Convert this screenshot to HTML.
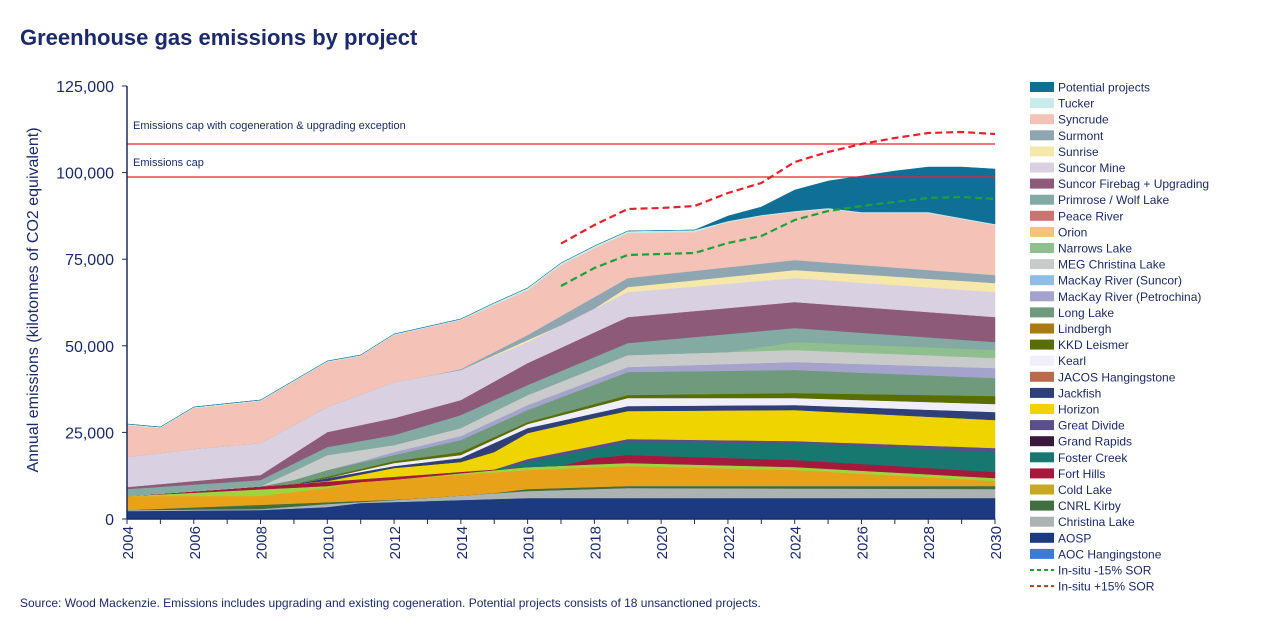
<!DOCTYPE html>
<html><head><meta charset="utf-8"><style>
body{margin:0;background:#fff;width:1286px;height:624px;overflow:hidden;font-family:"Liberation Sans",Arial,sans-serif}
</style></head><body>
<svg id="s" width="1286" height="624" xmlns="http://www.w3.org/2000/svg" font-family="Liberation Sans, Arial, sans-serif">
<text x="20" y="45" font-size="22" font-weight="bold" fill="#1a2a6c">Greenhouse gas emissions by project</text>
<text x="20" y="607" font-size="12" fill="#1a2a6c">Source: Wood Mackenzie. Emissions includes upgrading and existing cogeneration. Potential projects consists of 18 unsanctioned projects.</text>
<text transform="translate(38,300) rotate(-90)" text-anchor="middle" font-size="16" fill="#1a2a6c">Annual emissions (kilotonnes of CO2 equivalent)</text>
<g id="areas"></g>
<g id="axes"></g>
<g id="leg"></g>
</svg>
<script>
const NS="http://www.w3.org/2000/svg";
const X=y=>127+(y-2004)*33.385;
function el(t,a,p,txt){const e=document.createElementNS(NS,t);for(const k in a)e.setAttribute(k,a[k]);if(txt!=null)e.textContent=txt;p.appendChild(e);return e;}
function interp(kp){const r=[];const ks=Object.keys(kp).map(Number).sort((a,b)=>a-b);for(let y=2004;y<=2030;y++){const yy=y-2000;let i=0;while(i<ks.length-1&&ks[i+1]<yy)i++;let v;if(yy<=ks[0])v=kp[ks[0]];else if(yy>=ks[ks.length-1])v=kp[ks[ks.length-1]];else{const a=ks[i],b=ks[i+1];v=kp[a]+(kp[b]-kp[a])*(yy-a)/(b-a);}r.push(v);}return r;}
const L=[
["AOSP","#1b3a80",{4:511,8:510,10:507,11:503,16:498,30:498}],
["Christina Lake","#adb3b3",{4:510,8:509,10:504,12:500,16:491,19:488,30:489}],
["CNRL Kirby","#3f6e3f",{4:510,14:497,16:489,19:486,30:486}],
["Cold Lake","#e8a21a",{4:496,8:496,10:488,11:482,16:470,19:466,24:470,30:481}],
["AOC Hangingstone","#9fd43f",{4:496,10:486,16:467,19:463,24:467,30:478}],
["Fort Hills","#a8173c",{4:496,16:467,17:466,18:458,19:455,24:460,30:472}],
["Foster Creek","#17786f",{4:496,8:494,9:490,12:485,14:481,15:475,16:462,19:442,24:443,30:452}],
["Great Divide","#5a4e8c",{4:496,8:494,9:489,12:483,14:479,15:473,16:459,19:439,24:441,30:448}],
["Horizon","#f0d400",{4:496,8:494,9:485,10:481,12:468,14:462,15:452,16:433,18:418,19:411,24:410,30:420}],
["Jackfish","#2e3f7a",{4:496,8:494,9:484,12:466,14:458,16:428,19:406,24:405,30:412}],
["Kearl","#f0eef8",{4:496,8:493,12:463,14:455,16:424,19:398,24:398,30:404}],
["KKD Leismer","#5a6e00",{4:496,8:492,12:461,14:452,16:422,19:395,24:393,30:396}],
["Long Lake","#6f9a7c",{4:496,8:490,10:470,12:455,14:440,16:410,19:372,24:370,30:378}],
["MacKay River (Petrochina)","#a3a3cc",{4:496,8:489,12:452,14:436,16:405,19:367,24:362,30:368}],
["MEG Christina Lake","#c9cbcb",{4:496,8:487,10:455,12:445,14:428,16:395,19:355,24:350,30:358}],
["Narrows Lake","#8fbf8f",{4:496,8:487,10:455,12:445,14:428,16:395,19:355,22:352,24:342,30:350}],
["Primrose / Wolf Lake","#84aaa4",{4:489,8:480,10:447,12:435,14:415,16:385,19:343,24:328,30:342}],
["Suncor Firebag + Upgrading","#8e5a7a",{4:487,8:475,10:432,12:418,14:400,16:363,19:317,24:302,30:317}],
["Suncor Mine","#d9d1e1",{4:457,6:449,8:443,10:407,12:382,14:370,16:342,19:292,24:278,30:292}],
["Sunrise","#f6e8aa",{4:600,13:600,14:370,16:340,17:330,19:287,24:270,30:283}],
["Surmont","#8ea6b2",{4:600,13:600,14:369,16:335,19:278,24:260,30:275}],
["Syncrude","#f4c2b6",{4:425,5:428,6:408,8:401,10:362,11:356,12:335,14:320,15:305,16:290,17:265,18:248,19:233,21:232,22:222,23:216,24:212,25:209,26:213,28:213,30:225}],
["Tucker","#c8ecec",{4:424,5:427,6:407,8:400,10:361,11:355,12:334,14:319,15:303,16:288,17:263,18:246,19:231,21:230,22:221,23:215,24:211,25:208,26:212,28:212,30:224}],
["Potential projects","#0f6f97",{4:600,21:600,22:216,23:207,24:190,25:181,26:176,27:171,28:167,29:167,30:169}]
];
const g=document.getElementById("areas");
let prev=Array(27).fill(519);
for(const [n,c,kp] of L){let t=interp(kp).map((v,i)=>Math.min(v,prev[i]));let pts=[];for(let i=0;i<27;i++)pts.push(X(2004+i).toFixed(1)+","+t[i].toFixed(1));for(let i=26;i>=0;i--)pts.push(X(2004+i).toFixed(1)+","+prev[i].toFixed(1));el("polygon",{points:pts.join(" "),fill:c,stroke:c,"stroke-width":0.5},g);prev=t;}
const a=document.getElementById("axes");
el("line",{x1:127,y1:144,x2:995,y2:144,stroke:"#e8202a","stroke-width":1.3},a);
el("line",{x1:127,y1:177,x2:995,y2:177,stroke:"#e8202a","stroke-width":1.3},a);
el("text",{x:133,y:129,"font-size":11,fill:"#1a2a6c"},a,"Emissions cap with cogeneration & upgrading exception");
el("text",{x:133,y:166,"font-size":11,fill:"#1a2a6c"},a,"Emissions cap");
const red={17:243.6,18:225,19:209,20:208,21:206,22:193,23:183,24:162,25:152,26:144,27:138,28:133,29:132,30:134};
const grn={17:286,18:268,19:255,20:254,21:253,22:243,23:236,24:220,25:211,26:206,27:202,28:198,29:197,30:199};
for(const [d,c] of [[grn,"#1aa33a"],[red,"#e8202a"]]){el("polyline",{points:Object.keys(d).map(k=>X(2000+ +k)+","+d[k]).join(" "),fill:"none",stroke:c,"stroke-width":2.2,"stroke-dasharray":"7,4"},a);}
el("line",{x1:127,y1:86,x2:127,y2:519,stroke:"#1a2a6c","stroke-width":1.5},a);
el("line",{x1:127,y1:519,x2:995,y2:519,stroke:"#1a2a6c","stroke-width":1.5},a);
for(let i=0;i<=5;i++){const y=519-i*86.6;el("line",{x1:122,y1:y,x2:127,y2:y,stroke:"#1a2a6c"},a);el("text",{x:114,y:y+6,"text-anchor":"end","font-size":16,fill:"#1a2a6c"},a,(i*25000).toLocaleString("en-US"));}
for(let yr=2004;yr<=2030;yr++){const x=X(yr);el("line",{x1:x,y1:519,x2:x,y2:524,stroke:"#1a2a6c"},a);if(yr%2==0)el("text",{transform:`translate(${x+6},${526}) rotate(-90)`,"text-anchor":"end","font-size":15,fill:"#1a2a6c"},a,String(yr));}
const lg=document.getElementById("leg");
const fin=[["Potential projects","#0f6f97"],["Tucker","#c8ecec"],["Syncrude","#f4c2b6"],["Surmont","#8ea6b2"],["Sunrise","#f6e8aa"],["Suncor Mine","#d9d1e1"],["Suncor Firebag + Upgrading","#8e5a7a"],["Primrose / Wolf Lake","#84aaa4"],["Peace River","#d07070"],["Orion","#f5c27a"],["Narrows Lake","#8fbf8f"],["MEG Christina Lake","#c9cbcb"],["MacKay River (Suncor)","#8fbde6"],["MacKay River (Petrochina)","#a3a3cc"],["Long Lake","#6f9a7c"],["Lindbergh","#a87a10"],["KKD Leismer","#5a6e00"],["Kearl","#f0eef8"],["JACOS Hangingstone","#b86a4a"],["Jackfish","#2e3f7a"],["Horizon","#f0d400"],["Great Divide","#5a4e8c"],["Grand Rapids","#3a1a3a"],["Foster Creek","#17786f"],["Fort Hills","#a8173c"],["Cold Lake","#c8a820"],["CNRL Kirby","#3f6e3f"],["Christina Lake","#adb3b3"],["AOSP","#1b3a80"],["AOC Hangingstone","#3a7ad8"]];
let y0=87;
fin.forEach((it,i)=>{const y=y0+i*16.1;el("rect",{x:1030,y:y-5,width:24,height:10,fill:it[1]},lg);el("text",{x:1058,y:y+4.5,"font-size":12,fill:"#1a2a6c"},lg,it[0]);});
const n=fin.length;
[["In-situ -15% SOR","#1aa33a"],["In-situ +15% SOR","#a0402a"]].forEach((it,j)=>{const y=y0+(n+j)*16.1;el("line",{x1:1030,y1:y,x2:1054,y2:y,stroke:it[1],"stroke-width":2,"stroke-dasharray":"4,3"},lg);el("text",{x:1058,y:y+4.5,"font-size":12,fill:"#1a2a6c"},lg,it[0]);});
</script>
</body></html>
